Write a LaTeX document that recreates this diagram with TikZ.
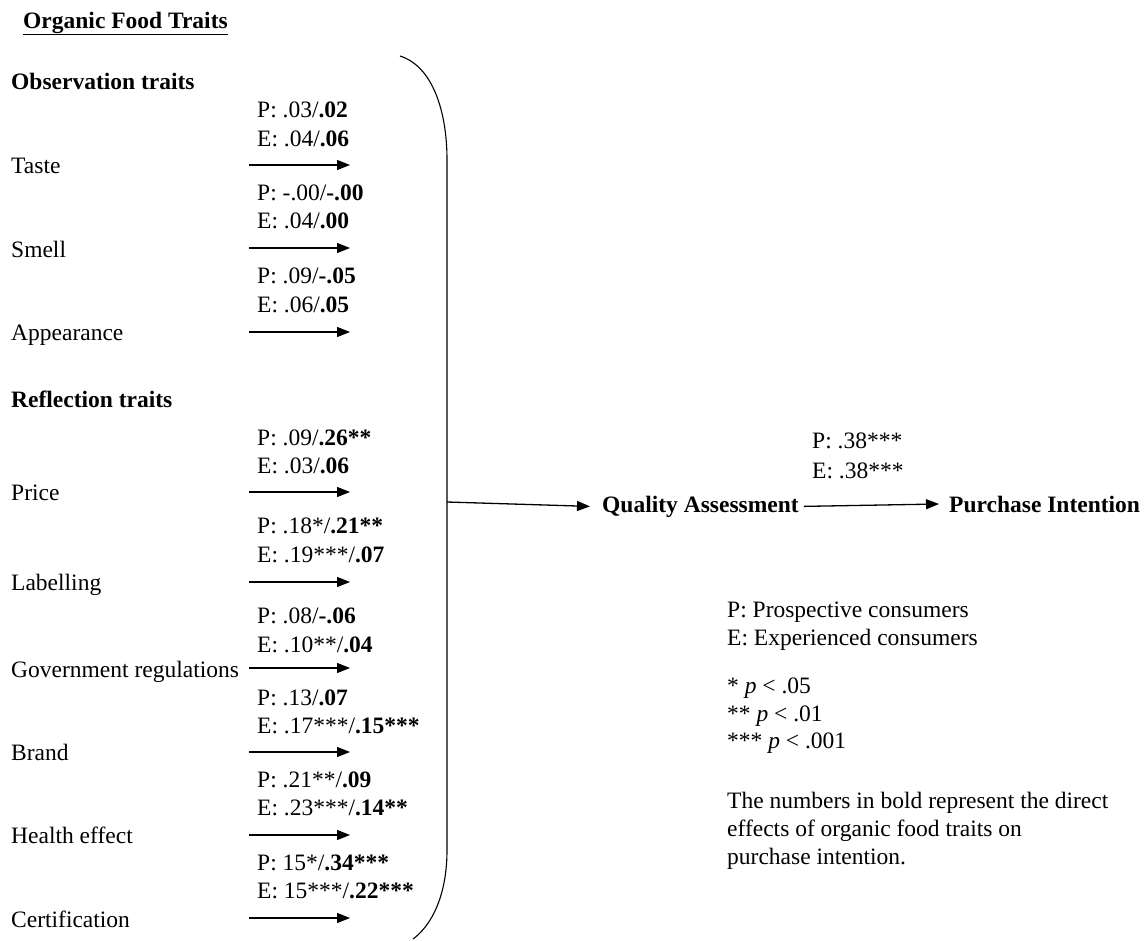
\documentclass[tikz,border=0pt]{standalone}
\usepackage{fontspec}
\setmainfont{Liberation Serif}
\usetikzlibrary{arrows.meta}
\begin{document}
\begin{tikzpicture}[x=1pt,y=-1pt,
  txt/.style={anchor=base west,inner sep=0pt,font=\fontsize{23.5}{28}\selectfont},
  arr/.style={-{Triangle[length=13pt,width=10pt]},line width=1.3pt},
  brace/.style={line width=1.1pt}]
\useasboundingbox (0,0) rectangle (1145,940);
% title and headings
\node[txt] (title) at (23,28) {\textbf{\underline{Organic Food Traits}}};
\node[txt] (obs) at (11,89) {\textbf{Observation traits}};
\node[txt] (refl) at (11,407) {\textbf{Reflection traits}};
% observation traits
\node[txt] (taste) at (11,173) {Taste};
\node[txt] (tasteP) at (257,117) {P: .03/\textbf{.02}};
\node[txt] (tasteE) at (257,146) {E: .04/\textbf{.06}};
\coordinate (tasteA) at (249,165); \coordinate (tasteB) at (350,165);
\node[txt] (smell) at (11,257) {Smell};
\node[txt] (smellP) at (257,200) {P: -.00/\textbf{-.00}};
\node[txt] (smellE) at (257,228) {E: .04/\textbf{.00}};
\coordinate (smellA) at (249,248); \coordinate (smellB) at (350,248);
\node[txt] (appear) at (11,340) {Appearance};
\node[txt] (appearP) at (257,283) {P: .09/\textbf{-.05}};
\node[txt] (appearE) at (257,312) {E: .06/\textbf{.05}};
\coordinate (appearA) at (249,332); \coordinate (appearB) at (350,332);
% reflection traits
\node[txt] (price) at (11,500) {Price};
\node[txt] (priceP) at (257,445) {P: .09/\textbf{.26**}};
\node[txt] (priceE) at (257,473) {E: .03/\textbf{.06}};
\coordinate (priceA) at (249,492); \coordinate (priceB) at (350,492);
\node[txt] (label) at (11,590) {Labelling};
\node[txt] (labelP) at (257,533) {P: .18*/\textbf{.21**}};
\node[txt] (labelE) at (257,562) {E: .19***/\textbf{.07}};
\coordinate (labelA) at (249,582); \coordinate (labelB) at (350,582);
\node[txt] (gov) at (11,677) {Government regulations};
\node[txt] (govP) at (257,623) {P: .08/\textbf{-.06}};
\node[txt] (govE) at (257,652) {E: .10**/\textbf{.04}};
\coordinate (govA) at (249,668); \coordinate (govB) at (350,668);
\node[txt] (brand) at (11,760) {Brand};
\node[txt] (brandP) at (257,705) {P: .13/\textbf{.07}};
\node[txt] (brandE) at (257,733) {E: .17***/\textbf{.15***}};
\coordinate (brandA) at (249,752); \coordinate (brandB) at (350,752);
\node[txt] (health) at (11,843) {Health effect};
\node[txt] (healthP) at (257,787) {P: .21**/\textbf{.09}};
\node[txt] (healthE) at (257,815) {E: .23***/\textbf{.14**}};
\coordinate (healthA) at (249,835); \coordinate (healthB) at (350,835);
\node[txt] (cert) at (11,927) {Certification};
\node[txt] (certP) at (257,870) {P: 15*/\textbf{.34***}};
\node[txt] (certE) at (257,898) {E: 15***/\textbf{.22***}};
\coordinate (certA) at (249,918); \coordinate (certB) at (350,918);
\foreach \n in {taste,smell,appear,price,label,gov,brand,health,cert}
  \draw[arr] (\n A) -- (\n B);
% bracket
\draw[brace] (400,56) .. controls (432,66) and (447,110) .. (447,160)
  -- (447,850) .. controls (447,895) and (432,925) .. (413,939);
\coordinate (brk) at (447,502);
% outcome chain
\node[txt] (qa) at (602,512) {\textbf{Quality Assessment}};
\node[txt] (pi) at (949,512) {\textbf{Purchase Intention}};
\node[txt] (qaP) at (812,448) {P: .38***};
\node[txt] (qaE) at (812,478) {E: .38***};
\draw[arr] (brk) -- ([xshift=-12pt]qa.west);
\draw[arr] ([xshift=5pt]qa.east) -- ([xshift=-10pt]pi.west);
% legend
\node[txt] (legP) at (727,617) {P: Prospective consumers};
\node[txt] (legE) at (727,645) {E: Experienced consumers};
\node[txt] (leg1) at (727,693) {* \textit{p} < .05};
\node[txt] (leg2) at (727,721) {** \textit{p} < .01};
\node[txt] (leg3) at (727,748) {*** \textit{p} < .001};
\node[txt] (note1) at (727,808) {The numbers in bold represent the direct};
\node[txt] (note2) at (727,836) {effects of organic food traits on};
\node[txt] (note3) at (727,864) {purchase intention.};
\end{tikzpicture}
\end{document}
